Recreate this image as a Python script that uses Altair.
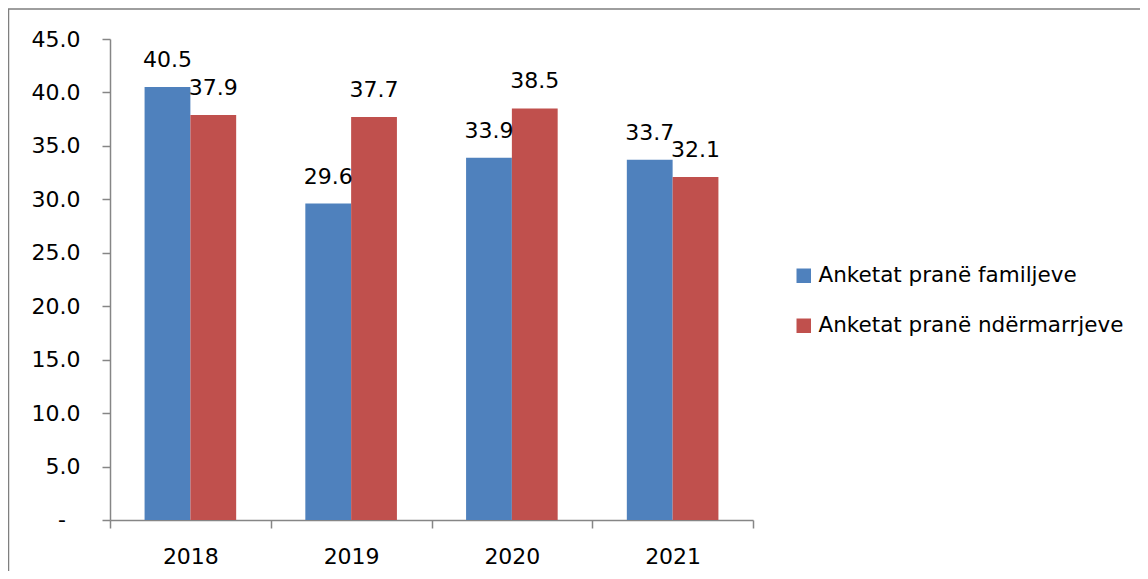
import altair as alt
import pandas as pd

years = ["2018", "2019", "2020", "2021"]
series = ["Anketat pranë familjeve", "Anketat pranë ndërmarrjeve"]
familjeve = [40.5, 29.6, 33.9, 33.7]
ndermarrjeve = [37.9, 37.7, 38.5, 32.1]
colors = ["#4F81BD", "#C0504D"]
y_ticks = [0, 5, 10, 15, 20, 25, 30, 35, 40, 45]
zero_label = ["-"]

rows = []
for i, y in enumerate(years):
    rows.append({"year": y, "series": series[0], "value": familjeve[i]})
    rows.append({"year": y, "series": series[1], "value": ndermarrjeve[i]})
df = pd.DataFrame(rows)

FONT = "DejaVu Sans"
GRAY = "#868686"
FS = 22

x_enc = alt.X(
    "year:N",
    sort=years,
    scale=alt.Scale(paddingInner=0, paddingOuter=0),
    axis=alt.Axis(
        title=None, labelAngle=0, tickBand="extent", tickSize=8,
        labelPadding=18, domainColor=GRAY, tickColor=GRAY,
        domainWidth=1.5, tickWidth=1.5, labelFontSize=FS, labelFont=FONT,
        labelColor="black",
    ),
)
xoff_enc = alt.XOffset("series:N", sort=series,
                       scale=alt.Scale(paddingOuter=0.755, paddingInner=0))
y_enc = alt.Y(
    "value:Q",
    scale=alt.Scale(domain=[0, 45], nice=False),
    axis=alt.Axis(
        title=None, values=y_ticks, grid=False, tickSize=8, labelPadding=22,
        domainColor=GRAY, tickColor=GRAY, domainWidth=1.5, tickWidth=1.5,
        labelFontSize=FS, labelFont=FONT, labelColor="black",
        labelExpr="datum.value == 0 ? '' : format(datum.value, '.1f')",
    ),
)

bars = alt.Chart(df).mark_bar().encode(
    x=x_enc,
    xOffset=xoff_enc,
    y=y_enc,
    color=alt.Color(
        "series:N",
        sort=series,
        scale=alt.Scale(domain=series, range=colors),
        legend=alt.Legend(
            title=None, orient="none", legendX=683, legendY=226,
            symbolType="square", symbolSize=210, symbolStrokeWidth=0,
            labelFontSize=21.5, labelFont=FONT, labelColor="black",
            labelOffset=4, rowPadding=27, padding=0, labelLimit=400,
        ),
    ),
)

labels = alt.Chart(df).mark_text(
    baseline="alphabetic", dy=-20, fontSize=FS, font=FONT, color="black"
).encode(
    x=alt.X("year:N", sort=years),
    xOffset=alt.XOffset("series:N", sort=series),
    y=alt.Y("value:Q"),
    text=alt.Text("value:Q", format=".1f"),
)

zero = alt.Chart(pd.DataFrame({"v": [0], "t": zero_label})).mark_text(
    align="right", baseline="middle", fontSize=FS, font=FONT, color="black"
).encode(
    x=alt.value(-44),
    y=alt.Y("v:Q"),
    text="t:N",
)

border = alt.Chart(pd.DataFrame({"a": [0]})).mark_rect(
    fill=None, stroke="#7f7f7f", strokeWidth=1.5
).encode(
    x=alt.value(-101.5), x2=alt.value(2000),
    y=alt.value(-30), y2=alt.value(2000),
)

chart = alt.layer(bars, labels, zero, border).properties(
    width=643, height=481,
    autosize=alt.AutoSizeParams(type="none"),
    padding={"left": 102, "top": 31, "right": 387, "bottom": 51},
).configure_view(stroke=None)

chart.save("out.html", embed_options={"renderer": "svg", "actions": False})
